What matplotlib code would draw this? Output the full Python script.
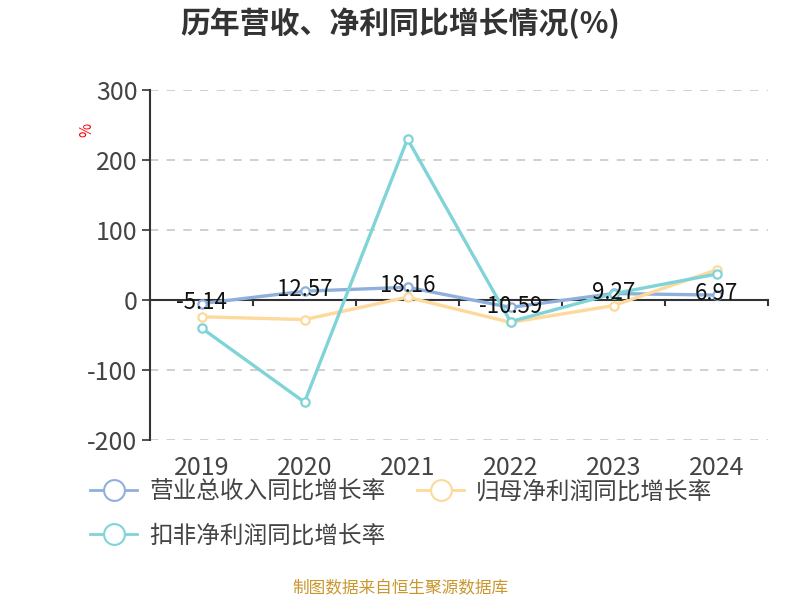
import matplotlib
matplotlib.use("Agg")
import matplotlib.pyplot as plt
from matplotlib.lines import Line2D

plt.rcParams["font.family"] = ["Noto Sans CJK SC", "DejaVu Sans"]
plt.rcParams["axes.unicode_minus"] = False

years = ["2019", "2020", "2021", "2022", "2023", "2024"]
revenue_growth = [-5.14, 12.57, 18.16, -10.59, 9.27, 6.97]
net_profit_growth = [-24, -28, 4, -32, -8, 43]
deducted_profit_growth = [-40, -146, 230, -31, 9, 37]

series_names = ["营业总收入同比增长率", "归母净利润同比增长率", "扣非净利润同比增长率"]
series_colors = ["#8fb0dc", "#fdd99b", "#80d4d8"]

fig = plt.figure(figsize=(8, 6), dpi=100)
ax = fig.add_axes([0.1875, 0.2667, 0.7725, 0.5833])

x = list(range(len(years)))
for vals, color in zip([revenue_growth, net_profit_growth, deducted_profit_growth], series_colors):
    ax.plot(x, vals, color=color, lw=2.4, marker="o", markersize=6,
            markerfacecolor="white", markeredgecolor=color, markeredgewidth=1.6,
            zorder=3)

for xi, v in zip(x, revenue_growth):
    ax.text(xi, v + 2, f"{v:.2f}", ha="center", va="center", fontsize=16,
            color="#111111", zorder=4)

ax.set_xlim(-0.5, len(years) - 0.5)
ax.set_ylim(-200, 300)
ax.set_yticks([-200, -100, 0, 100, 200, 300])
ax.set_xticks(x)
ax.set_xticklabels(years)
ax.tick_params(axis="x", length=0, labelsize=18, labelcolor="#444444", pad=11)
ax.tick_params(axis="y", length=6, width=1.2, color="#333333", labelsize=18,
               labelcolor="#444444", pad=3)

ax.grid(axis="y", color="#c8c8c8", linestyle=(0, (5, 5)), lw=1.2)
ax.set_axisbelow(True)
for side in ["top", "right", "bottom"]:
    ax.spines[side].set_visible(False)
ax.spines["left"].set_color("#333333")
ax.spines["left"].set_linewidth(1.5)

# zero axis with category boundary ticks
ax.axhline(0, color="#333333", lw=1.5, zorder=2)
for b in range(len(years) + 1):
    ax.plot([b - 0.5, b - 0.5], [0, -7], color="#333333", lw=1.5, zorder=2,
            clip_on=False)

fig.text(0.109, 0.783, "%", color="red", fontsize=11, rotation=90,
         ha="center", va="center")

fig.text(0.5, 0.962, "历年营收、净利同比增长情况(%)", ha="center", va="center",
         fontsize=21.5, fontweight="bold", color="#333333")

handles = [Line2D([0], [0], color=c, lw=2, marker="o", markersize=15,
                  markerfacecolor="white", markeredgecolor=c, markeredgewidth=1.5)
           for c in series_colors]
fig.legend(handles[:2], series_names[:2], loc="center left",
           bbox_to_anchor=(0.086, 0.18), ncol=2, frameon=False, fontsize=17,
           handlelength=2.0, handletextpad=0.5, columnspacing=1.35,
           labelcolor="#444444")
fig.legend(handles[2:], series_names[2:], loc="center left",
           bbox_to_anchor=(0.086, 0.107), frameon=False, fontsize=17,
           handlelength=2.0, handletextpad=0.5, labelcolor="#444444")

fig.text(0.5, 0.018, "制图数据来自恒生聚源数据库", ha="center", va="center",
         fontsize=12, color="#c8972e")

fig.savefig("out.png", dpi=100)
